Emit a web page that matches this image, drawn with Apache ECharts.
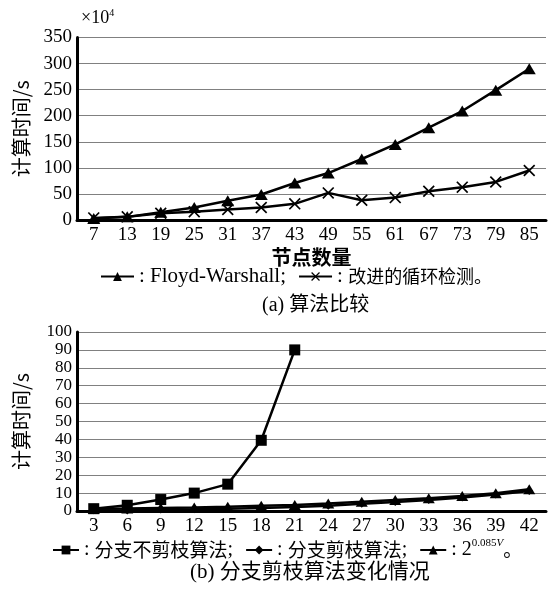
<!DOCTYPE html>
<html>
<head>
<meta charset="utf-8">
<script src="https://cdn.jsdelivr.net/npm/echarts@6/dist/echarts.min.js"></script>
<style>
  html, body { margin: 0; padding: 0; background: #fff; }
  #chart { width: 548px; height: 589px; }
</style>
</head>
<body>
<div id="chart"></div>
<script>
// (a) 算法比较, 单位 ×10^4 s
const nodesA = [7, 13, 19, 25, 31, 37, 43, 49, 55, 61, 67, 73, 79, 85]
const floydA = [3, 6, 15, 24, 37, 49, 71, 90, 117, 145, 177, 209, 249, 290]
const loopA = [4, 6, 13, 16, 20, 24, 31, 52, 38, 43, 55, 63, 73, 95]
const ticksA = [0, 50, 100, 150, 200, 250, 300, 350]

// (b) 分支剪枝算法变化情况, 单位 s
const nodesB = [3, 6, 9, 12, 15, 18, 21, 24, 27, 30, 33, 36, 39, 42]
const noPruneB = [1.3, 3.2, 6.4, 10, 15, 39.5, 90]
const pruneB = [0.4, 0.3, 0.8, 1.0, 1.3, 1.7, 2.2, 3.0, 4.0, 5.0, 6.2, 7.6, 9.2, 11.2]
const expB = [1.2, 1.4, 1.7, 2.0, 2.4, 2.9, 3.4, 4.2, 5.1, 6.1, 7.1, 8.4, 9.9, 12.1]
const ticksB = [0, 10, 20, 30, 40, 50, 60, 70, 80, 90, 100]

const FONT = '"Liberation Serif", "Noto Sans CJK SC", serif'
const CJK = '"Noto Sans CJK SC", "Liberation Serif", sans-serif'

// 叉号 (填充多边形)
const crossPath = 'path://M0,1.2L1.2,0L6,4.8L10.8,0L12,1.2L7.2,6L12,10.8L10.8,12L6,7.2L1.2,12L0,10.8L4.8,6Z'

function makeXAxis(gridIndex, data) {
  return {
    type: 'category',
    gridIndex: gridIndex,
    data: data,
    boundaryGap: true,
    axisLine: { lineStyle: { color: '#000', width: 3 } },
    axisTick: { show: false },
    axisLabel: { color: '#000', fontFamily: FONT, fontSize: 19, margin: 6, interval: 0 },
    splitLine: { show: false }
  }
}

function makeYAxis(gridIndex, ticks, labelSize) {
  return {
    type: 'value',
    gridIndex: gridIndex,
    min: ticks[0],
    max: ticks[ticks.length - 1],
    interval: ticks[1] - ticks[0],
    name: '计算时间/s',
    nameLocation: 'middle',
    nameGap: 46,
    nameTextStyle: { color: '#000', fontFamily: CJK, fontSize: 20 },
    axisLine: { show: true, lineStyle: { color: '#000', width: 3 } },
    axisTick: { show: false },
    axisLabel: {
      color: '#000', fontFamily: FONT, fontSize: labelSize, lineHeight: 14, margin: 5,
      showMinLabel: true, showMaxLabel: true, hideOverlap: false
    },
    splitLine: { lineStyle: { color: '#808080', width: 1.2 } }
  }
}

function lineSeries(name, xi, data, symbol, size) {
  return {
    name: name,
    type: 'line',
    xAxisIndex: xi,
    yAxisIndex: xi,
    data: data,
    symbol: symbol,
    symbolSize: size,
    showAllSymbol: true,
    lineStyle: { color: '#000', width: 2.5 },
    itemStyle: { color: '#000' }
  }
}

function legendRich(latinSize, cjkSize) {
  return {
    color: '#000',
    fontFamily: FONT,
    fontSize: latinSize,
    rich: {
      l: { fontFamily: FONT, fontSize: latinSize, lineHeight: 24, color: '#000' },
      c: { fontFamily: CJK, fontSize: cjkSize, lineHeight: 24, color: '#000' },
      s: { fontFamily: FONT, fontSize: 11, verticalAlign: 'top', lineHeight: 24, color: '#000' },
      i: { fontFamily: FONT, fontSize: 11, fontStyle: 'italic', verticalAlign: 'top', lineHeight: 24, color: '#000' }
    }
  }
}

const option = {
  animation: false,
  backgroundColor: '#fff',
  grid: [
    { left: 77, right: 2, top: 37.5, height: 182.5 },
    { left: 77, right: 2, top: 332, height: 179 }
  ],
  xAxis: [
    Object.assign(makeXAxis(0, nodesA), {
      name: '节点数量',
      nameLocation: 'middle',
      nameGap: 27,
      nameTextStyle: { color: '#000', fontFamily: CJK, fontSize: 20, fontWeight: 'bold', verticalAlign: 'top' }
    }),
    makeXAxis(1, nodesB)
  ],
  yAxis: [makeYAxis(0, ticksA, 19), makeYAxis(1, ticksB, 17)],
  legend: [
    {
      data: ['Floyd-Warshall', '改进的循环检测'],
      left: 100,
      top: 266,
      padding: 0,
      width: 440,
      itemWidth: 33,
      itemHeight: 11,
      itemGap: 12,
      formatter: function(name) {
        if (name === 'Floyd-Warshall') return '{l|: Floyd-Warshall;}'
        return '{l|: }{c|' + name + '。}'
      },
      textStyle: legendRich(21, 18)
    },
    {
      data: ['分支不剪枝算法', '分支剪枝算法', '2^0.085V'],
      left: 52,
      top: 538,
      padding: 0,
      width: 496,
      itemWidth: 26,
      itemHeight: 11,
      itemGap: 12,
      formatter: function(name) {
        if (name === '2^0.085V') return '{l|: 2}{s|0.085}{i|V}{c|。}'
        return '{l|: }{c|' + name + '}{l|;}'
      },
      textStyle: legendRich(20, 19)
    }
  ],
  graphic: [
    {
      type: 'text',
      left: 81,
      top: 8,
      style: {
        text: '{a|×10}{b|4}',
        rich: {
          a: { fontFamily: FONT, fontSize: 18, lineHeight: 20, fill: '#000' },
          b: { fontFamily: FONT, fontSize: 10, lineHeight: 20, verticalAlign: 'top', fill: '#000' }
        }
      }
    },
    {
      type: 'text',
      left: 262,
      top: 296,
      style: { text: '(a) 算法比较', font: '20px ' + FONT, fill: '#000' }
    },
    {
      type: 'text',
      left: 190,
      top: 562,
      style: { text: '(b) 分支剪枝算法变化情况', font: '21px ' + FONT, fill: '#000' }
    }
  ],
  series: [
    lineSeries('改进的循环检测', 0, loopA, crossPath, 12),
    lineSeries('Floyd-Warshall', 0, floydA, 'triangle', [13, 11]),
    lineSeries('分支不剪枝算法', 1, noPruneB, 'rect', 11),
    lineSeries('分支剪枝算法', 1, pruneB, 'diamond', 8),
    lineSeries('2^0.085V', 1, expB, 'triangle', [12, 10])
  ]
}

const chart = echarts.init(document.getElementById('chart'))
chart.setOption(option)
</script>
</body>
</html>
